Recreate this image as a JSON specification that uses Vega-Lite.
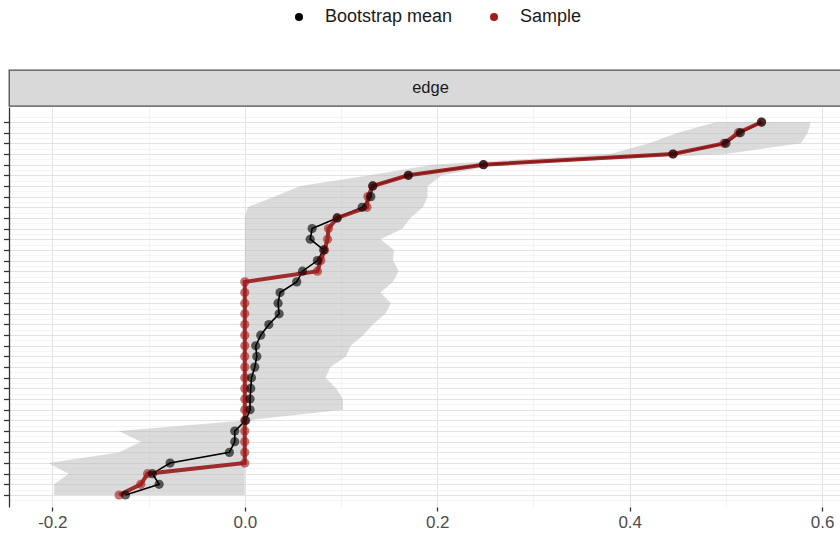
{
  "$schema": "https://vega.github.io/schema/vega-lite/v6.json",
  "padding": {"left": 2, "top": 8, "right": 0, "bottom": 0},
  "background": "white",
  "config": {"font": "Liberation Sans", "view": {"stroke": null}, "concat": {"spacing": 0}},
  "datasets": {
    "ribbon": [
      {"rank": 36, "lower": 0.49, "upper": 0.588},
      {"rank": 35, "lower": 0.45, "upper": 0.585},
      {"rank": 34, "lower": 0.42, "upper": 0.578},
      {"rank": 33, "lower": 0.38, "upper": 0.50},
      {"rank": 32, "lower": 0.195, "upper": 0.262},
      {"rank": 31, "lower": 0.13, "upper": 0.205},
      {"rank": 30, "lower": 0.058, "upper": 0.19},
      {"rank": 29, "lower": 0.031, "upper": 0.19},
      {"rank": 28, "lower": 0.003, "upper": 0.185},
      {"rank": 27, "lower": 0.0, "upper": 0.172},
      {"rank": 26, "lower": 0.0, "upper": 0.164},
      {"rank": 25, "lower": 0.0, "upper": 0.141},
      {"rank": 24, "lower": 0.0, "upper": 0.155},
      {"rank": 23, "lower": 0.0, "upper": 0.154},
      {"rank": 22, "lower": 0.0, "upper": 0.160},
      {"rank": 21, "lower": 0.0, "upper": 0.154},
      {"rank": 20, "lower": 0.0, "upper": 0.141},
      {"rank": 19, "lower": 0.0, "upper": 0.152},
      {"rank": 18, "lower": 0.0, "upper": 0.146},
      {"rank": 17, "lower": 0.0, "upper": 0.133},
      {"rank": 16, "lower": 0.0, "upper": 0.123},
      {"rank": 15, "lower": 0.0, "upper": 0.110},
      {"rank": 14, "lower": 0.0, "upper": 0.105},
      {"rank": 13, "lower": 0.0, "upper": 0.089},
      {"rank": 12, "lower": 0.0, "upper": 0.084},
      {"rank": 11, "lower": 0.0, "upper": 0.095},
      {"rank": 10, "lower": 0.0, "upper": 0.102},
      {"rank": 9, "lower": 0.0, "upper": 0.102},
      {"rank": 8, "lower": 0.0, "upper": 0.002},
      {"rank": 7, "lower": -0.131, "upper": 0.0},
      {"rank": 6, "lower": -0.108, "upper": 0.0},
      {"rank": 5, "lower": -0.131, "upper": 0.0},
      {"rank": 4, "lower": -0.204, "upper": 0.0},
      {"rank": 3, "lower": -0.183, "upper": 0.0},
      {"rank": 2, "lower": -0.198, "upper": 0.0},
      {"rank": 1, "lower": -0.198, "upper": 0.0}
    ],
    "pts": [
      {"rank": 36, "series": "Sample", "value": 0.537},
      {"rank": 35, "series": "Sample", "value": 0.513},
      {"rank": 34, "series": "Sample", "value": 0.498},
      {"rank": 33, "series": "Sample", "value": 0.445},
      {"rank": 32, "series": "Sample", "value": 0.248},
      {"rank": 31, "series": "Sample", "value": 0.170},
      {"rank": 30, "series": "Sample", "value": 0.133},
      {"rank": 29, "series": "Sample", "value": 0.128},
      {"rank": 28, "series": "Sample", "value": 0.127},
      {"rank": 27, "series": "Sample", "value": 0.096},
      {"rank": 26, "series": "Sample", "value": 0.087},
      {"rank": 25, "series": "Sample", "value": 0.086},
      {"rank": 24, "series": "Sample", "value": 0.083},
      {"rank": 23, "series": "Sample", "value": 0.079},
      {"rank": 22, "series": "Sample", "value": 0.0755},
      {"rank": 21, "series": "Sample", "value": 0.0},
      {"rank": 20, "series": "Sample", "value": 0.0},
      {"rank": 19, "series": "Sample", "value": 0.0},
      {"rank": 18, "series": "Sample", "value": 0.0},
      {"rank": 17, "series": "Sample", "value": 0.0},
      {"rank": 16, "series": "Sample", "value": 0.0},
      {"rank": 15, "series": "Sample", "value": 0.0},
      {"rank": 14, "series": "Sample", "value": 0.0},
      {"rank": 13, "series": "Sample", "value": 0.0},
      {"rank": 12, "series": "Sample", "value": 0.0},
      {"rank": 11, "series": "Sample", "value": 0.0},
      {"rank": 10, "series": "Sample", "value": 0.0},
      {"rank": 9, "series": "Sample", "value": 0.0},
      {"rank": 8, "series": "Sample", "value": 0.0},
      {"rank": 7, "series": "Sample", "value": 0.0},
      {"rank": 6, "series": "Sample", "value": 0.0},
      {"rank": 5, "series": "Sample", "value": 0.0},
      {"rank": 4, "series": "Sample", "value": 0.0},
      {"rank": 3, "series": "Sample", "value": -0.101},
      {"rank": 2, "series": "Sample", "value": -0.108},
      {"rank": 1, "series": "Sample", "value": -0.1306},
      {"rank": 36, "series": "Bootstrap mean", "value": 0.537},
      {"rank": 35, "series": "Bootstrap mean", "value": 0.515},
      {"rank": 34, "series": "Bootstrap mean", "value": 0.50},
      {"rank": 33, "series": "Bootstrap mean", "value": 0.445},
      {"rank": 32, "series": "Bootstrap mean", "value": 0.248},
      {"rank": 31, "series": "Bootstrap mean", "value": 0.170},
      {"rank": 30, "series": "Bootstrap mean", "value": 0.133},
      {"rank": 29, "series": "Bootstrap mean", "value": 0.131},
      {"rank": 28, "series": "Bootstrap mean", "value": 0.122},
      {"rank": 27, "series": "Bootstrap mean", "value": 0.096},
      {"rank": 26, "series": "Bootstrap mean", "value": 0.070},
      {"rank": 25, "series": "Bootstrap mean", "value": 0.068},
      {"rank": 24, "series": "Bootstrap mean", "value": 0.082},
      {"rank": 23, "series": "Bootstrap mean", "value": 0.0755},
      {"rank": 22, "series": "Bootstrap mean", "value": 0.060},
      {"rank": 21, "series": "Bootstrap mean", "value": 0.054},
      {"rank": 20, "series": "Bootstrap mean", "value": 0.0367},
      {"rank": 19, "series": "Bootstrap mean", "value": 0.0346},
      {"rank": 18, "series": "Bootstrap mean", "value": 0.0357},
      {"rank": 17, "series": "Bootstrap mean", "value": 0.025},
      {"rank": 16, "series": "Bootstrap mean", "value": 0.0166},
      {"rank": 15, "series": "Bootstrap mean", "value": 0.0114},
      {"rank": 14, "series": "Bootstrap mean", "value": 0.0125},
      {"rank": 13, "series": "Bootstrap mean", "value": 0.0104},
      {"rank": 12, "series": "Bootstrap mean", "value": 0.007},
      {"rank": 11, "series": "Bootstrap mean", "value": 0.0062},
      {"rank": 10, "series": "Bootstrap mean", "value": 0.0055},
      {"rank": 9, "series": "Bootstrap mean", "value": 0.0055},
      {"rank": 8, "series": "Bootstrap mean", "value": 0.001},
      {"rank": 7, "series": "Bootstrap mean", "value": -0.0104},
      {"rank": 6, "series": "Bootstrap mean", "value": -0.0104},
      {"rank": 5, "series": "Bootstrap mean", "value": -0.016},
      {"rank": 4, "series": "Bootstrap mean", "value": -0.0776},
      {"rank": 3, "series": "Bootstrap mean", "value": -0.096},
      {"rank": 2, "series": "Bootstrap mean", "value": -0.089},
      {"rank": 1, "series": "Bootstrap mean", "value": -0.124}
    ]
  },
  "vconcat": [
    {
      "width": 843,
      "height": 36,
      "data": {"values": [{"panel": "edge"}]},
      "view": {"fill": "#d9d9d9", "stroke": "#4d4d4d", "strokeWidth": 1.3},
      "mark": {"type": "text", "fontSize": 16.5, "color": "#1a1a1a", "font": "Liberation Sans"},
      "encoding": {"text": {"field": "panel"}}
    },
    {
      "width": 843,
      "height": 400,
      "resolve": {"axis": {"x": "independent", "y": "independent"}},
      "layer": [
        {
          "data": {"name": "ribbon"},
          "mark": {"type": "area", "orient": "horizontal", "color": "#b8b8b8", "opacity": 0.5},
          "encoding": {
            "y": {
              "field": "rank", "type": "quantitative",
              "scale": {"domain": [-0.126, 37.41], "nice": false, "zero": false},
              "axis": {
                "orient": "left", "title": null, "labels": false,
                "values": [0.5,1.5,2.5,3.5,4.5,5.5,6.5,7.5,8.5,9.5,10.5,11.5,12.5,13.5,14.5,15.5,16.5,17.5,18.5,19.5,20.5,21.5,22.5,23.5,24.5,25.5,26.5,27.5,28.5,29.5,30.5,31.5,32.5,33.5,34.5,35.5,36.5],
                "domain": false, "ticks": false,
                "grid": true, "gridColor": "#efefef", "gridWidth": 0.7
              }
            },
            "x": {
              "field": "lower", "type": "quantitative",
              "scale": {"domain": [-0.245, 0.631], "nice": false, "zero": false},
              "axis": {
                "orient": "bottom", "title": null, "labels": false,
                "values": [-0.1, 0.1, 0.3, 0.5],
                "domain": false, "ticks": false,
                "grid": true, "gridColor": "#efefef", "gridWidth": 0.7
              }
            },
            "x2": {"field": "upper"}
          }
        },
        {
          "data": {"name": "pts"},
          "transform": [{"filter": "datum.series == 'Bootstrap mean'"}],
          "mark": {"type": "line", "color": "#000000", "strokeWidth": 1.6},
          "encoding": {
            "x": {
              "field": "value", "type": "quantitative",
              "axis": {
                "orient": "bottom", "title": null,
                "values": [-0.2, 0, 0.2, 0.4, 0.6],
                "labelExpr": "(datum.value < 0 ? '-' : '') + format(abs(datum.value), '.1f')",
                "labelFontSize": 17, "labelColor": "#4d4d4d", "labelPadding": 3,
                "domain": false,
                "tickColor": "#333333", "tickWidth": 1.3, "tickSize": 4,
                "grid": true, "gridColor": "#e3e3e3", "gridWidth": 1
              }
            },
            "y": {
              "field": "rank", "type": "quantitative",
              "axis": {
                "orient": "left", "title": null, "labels": false,
                "values": [1,2,3,4,5,6,7,8,9,10,11,12,13,14,15,16,17,18,19,20,21,22,23,24,25,26,27,28,29,30,31,32,33,34,35,36],
                "domain": true, "domainColor": "#333333", "domainWidth": 1.3,
                "tickColor": "#333333", "tickWidth": 1.3, "tickSize": 5.5,
                "grid": true, "gridColor": "#e3e3e3", "gridWidth": 1
              }
            },
            "order": {"field": "rank", "type": "quantitative"}
          }
        },
        {
          "data": {"name": "pts"},
          "transform": [{"filter": "datum.series == 'Sample'"}],
          "mark": {"type": "line", "color": "#981a1a", "strokeWidth": 4, "opacity": 0.9},
          "encoding": {
            "x": {"field": "value", "type": "quantitative", "axis": null},
            "y": {"field": "rank", "type": "quantitative", "axis": null},
            "order": {"field": "rank", "type": "quantitative"}
          }
        },
        {
          "data": {"name": "pts"},
          "mark": {"type": "point", "filled": true, "size": 85, "opacity": 0.62},
          "encoding": {
            "x": {"field": "value", "type": "quantitative", "axis": null},
            "y": {"field": "rank", "type": "quantitative", "axis": null},
            "color": {
              "field": "series", "type": "nominal",
              "scale": {"domain": ["Bootstrap mean", "Sample"], "range": ["#000000", "#a11b1b"]},
              "legend": {
                "title": null, "orient": "none", "legendX": 281, "legendY": -62,
                "direction": "horizontal", "labelFontSize": 18, "labelColor": "#1a1a1a",
                "symbolSize": 64, "symbolOpacity": 1, "symbolType": "circle",
                "labelOffset": 17, "columnPadding": 32, "padding": 0
              }
            }
          }
        }
      ]
    }
  ]
}
